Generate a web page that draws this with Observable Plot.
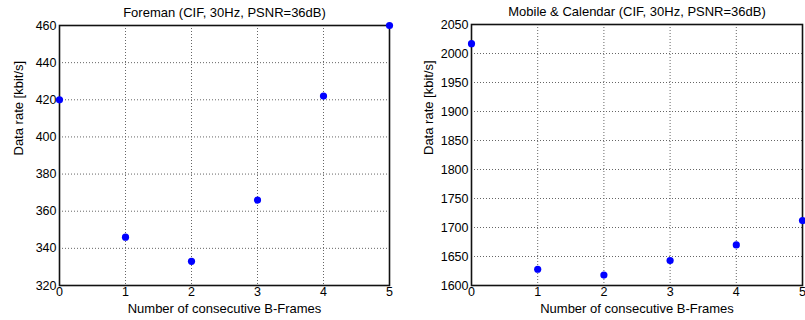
<!DOCTYPE html>
<html>
<head>
<meta charset="utf-8">
<script src="https://cdn.jsdelivr.net/npm/d3@7"></script>
<script src="https://cdn.jsdelivr.net/npm/@observablehq/plot@0.6"></script>
<style>
  html, body { margin: 0; padding: 0; background: white; overflow: hidden; }
  #wrap { display: flex; width: 805px; height: 320px; }
  svg { overflow: visible; flex: none; }
</style>
</head>
<body>
<div id="wrap"></div>
<script>
const bFrames = [0, 1, 2, 3, 4, 5];
const foremanRate = [420, 346, 333, 366, 422, 460];
const mobileRate = [2017, 1628, 1618, 1643, 1670, 1712];
const foremanTicks = [320, 340, 360, 380, 400, 420, 440, 460];
const mobileTicks = [1600, 1650, 1700, 1750, 1800, 1850, 1900, 1950, 2000, 2050];
const titles = ["Foreman (CIF, 30Hz, PSNR=36dB)", "Mobile & Calendar (CIF, 30Hz, PSNR=36dB)"];
const xLabel = "Number of consecutive B-Frames";
const yLabel = "Data rate [kbit/s]";

const FONT = "'Liberation Sans', Arial, Helvetica, sans-serif";
const fmt = d => String(d);

function panel({values, yTicks, yDomain, title, width, marginLeft, marginRight, marginTop, yLabelDx}) {
  const data = bFrames.map((b, i) => ({b, v: values[i]}));
  return Plot.plot({
    width, height: 320,
    marginLeft, marginRight, marginTop, marginBottom: 35,
    style: {fontFamily: FONT, fontSize: "12px", color: "black", background: "white", overflow: "visible"},
    x: {domain: [0, 5], ticks: bFrames},
    y: {domain: yDomain, ticks: yTicks},
    marks: [
      Plot.gridX(bFrames, {stroke: "#666", strokeOpacity: 1, strokeDasharray: "1,2", strokeWidth: 1}),
      Plot.gridY(yTicks, {stroke: "#666", strokeOpacity: 1, strokeDasharray: "1,2", strokeWidth: 1}),
      Plot.axisX({ticks: bFrames, tickFormat: fmt, tickSize: 0, tickPadding: 2, label: null, fontSize: 12.5}),
      Plot.axisY({ticks: yTicks, tickFormat: fmt, tickSize: 0, tickPadding: 3, label: null, fontSize: 12.5}),
      Plot.frame({stroke: "#111", strokeWidth: 1.6}),
      Plot.dot(data, {x: "b", y: "v", r: 3.6, fill: "#0000ff", stroke: "none"}),
      Plot.text([title], {frameAnchor: "top", dy: -13, fontSize: 13, fill: "black", lineAnchor: "middle"}),
      Plot.text([xLabel], {frameAnchor: "bottom", dy: 23, fontSize: 13, fill: "black", lineAnchor: "middle"}),
      Plot.text([yLabel], {frameAnchor: "left", dx: yLabelDx, rotate: -90, fontSize: 13, fill: "black", lineAnchor: "middle"})
    ]
  });
}

const wrap = document.getElementById("wrap");
wrap.appendChild(panel({
  values: foremanRate, yTicks: foremanTicks, yDomain: [320, 460], title: titles[0],
  width: 402, marginLeft: 59, marginRight: 13, marginTop: 25, yLabelDx: -41
}));
wrap.appendChild(panel({
  values: mobileRate, yTicks: mobileTicks, yDomain: [1600, 2050], title: titles[1],
  width: 403, marginLeft: 69, marginRight: 3, marginTop: 24, yLabelDx: -43
}));
</script>
</body>
</html>
